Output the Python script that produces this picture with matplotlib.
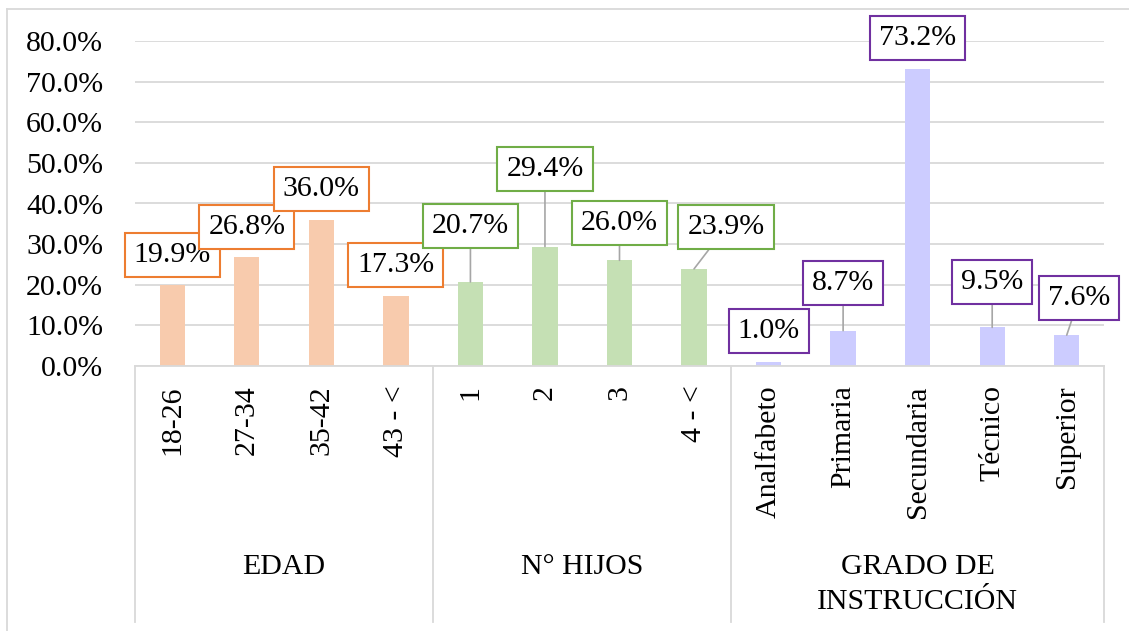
import matplotlib
matplotlib.use('Agg')
import matplotlib.pyplot as plt
import matplotlib.transforms as mtransforms
import numpy as np

plt.rcParams['font.family'] = ['Liberation Serif', 'DejaVu Serif']

# Data
groups = ['EDAD', 'N° HIJOS', 'GRADO DE\nINSTRUCCIÓN']
edad_labels = ['18-26', '27-34', '35-42', '43 - <']
edad_values = [19.9, 26.8, 36.0, 17.3]
hijos_labels = ['1', '2', '3', '4 - <']
hijos_values = [20.7, 29.4, 26.0, 23.9]
grado_labels = ['Analfabeto', 'Primaria', 'Secundaria', 'Técnico', 'Superior']
grado_values = [1.0, 8.7, 73.2, 9.5, 7.6]

# Styles
bar_colors = ['#F8CBAD', '#C5E0B4', '#CCCCFF']
edge_colors = ['#ED7D31', '#70AD47', '#7030A0']
FS = 21.5

# label offsets from bar top (points), and whether a leader line is shown
label_offsets = [(0, 22), (0, 22), (0, 22), (0, 22),
                 (0, 40), (0, 56), (0, 27), (23, 30),
                 (0, 22), (0, 34), (0, 22), (0, 33), (9, 27)]
leaders = [False, False, False, False,
           True, True, True, True,
           False, True, False, True, True]

values = edad_values + hijos_values + grado_values
cats = edad_labels + hijos_labels + grado_labels
group_of = [0] * len(edad_values) + [1] * len(hijos_values) + [2] * len(grado_values)
x = np.arange(len(values))

W, H = 1129, 631
fig = plt.figure(figsize=(W / 100, H / 100), dpi=100)
ax = fig.add_axes([135 / W, 1 - 366 / H, (1104 - 135) / W, (366 - 41) / H])

ax.bar(x, values, width=0.34, color=[bar_colors[g] for g in group_of], zorder=2)

ax.set_xlim(-0.5, len(values) - 0.5)
ax.set_ylim(0, 80)
ax.set_yticks(np.arange(0, 81, 10))
ax.set_yticklabels(['%.1f%%' % v for v in np.arange(0, 81, 10)], fontsize=FS)
ax.yaxis.grid(True, color='#D9D9D9', linewidth=1.3, zorder=0)
ax.set_axisbelow(True)
ax.tick_params(axis='y', length=0, pad=23)
ax.set_xticks(x)
ax.set_xticklabels(cats, rotation=90, fontsize=FS)
ax.tick_params(axis='x', length=0, pad=14)
for s in ['top', 'right', 'left']:
    ax.spines[s].set_visible(False)
ax.spines['bottom'].set_color('#D9D9D9')
ax.spines['bottom'].set_linewidth(1.3)

# data labels
for i, v in enumerate(values):
    g = group_of[i]
    arrow = dict(arrowstyle='-', color='#A6A6A6', lw=1.2, shrinkA=0, shrinkB=0) if leaders[i] else None
    ax.annotate('%.1f%%' % v, xy=(x[i], v), xytext=label_offsets[i], textcoords='offset points',
                ha='center', va='center', fontsize=FS, annotation_clip=False, zorder=5,
                bbox=dict(boxstyle='square,pad=0.3', fc='white', ec=edge_colors[g], lw=1.5),
                arrowprops=arrow)

# group separators and group labels
trans = mtransforms.blended_transform_factory(ax.transData, ax.transAxes)
y_bottom = -(622 - 366) / (366 - 41)
counts = [len(edad_values), len(hijos_values), len(grado_values)]
edges = np.concatenate([[0], np.cumsum(counts)]) - 0.5
for e in edges:
    ax.plot([e, e], [0, y_bottom], transform=trans, color='#D9D9D9', lw=1.3, clip_on=False)
label_y = [-(567 - 366) / 325, -(567 - 366) / 325, -(585 - 366) / 325]
for k, name in enumerate(groups):
    ax.text((edges[k] + edges[k + 1]) / 2, label_y[k], name, transform=trans,
            ha='center', va='center', fontsize=FS, linespacing=1.45)

# chart border (left and top visible)
fig.add_artist(plt.Line2D([7 / W, 7 / W], [0, 1 - 9 / H], color='#D9D9D9', lw=1.3))
fig.add_artist(plt.Line2D([7 / W, 1], [1 - 9 / H, 1 - 9 / H], color='#D9D9D9', lw=1.3))

fig.savefig('out.png', dpi=100, facecolor='white')
